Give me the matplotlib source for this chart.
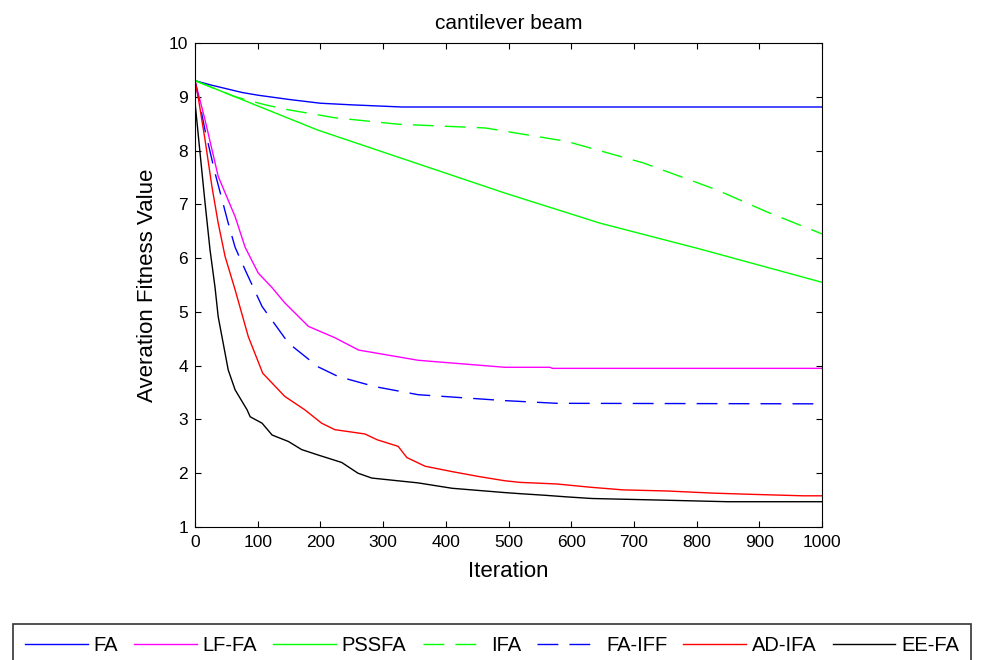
import matplotlib
matplotlib.use('Agg')
import matplotlib.pyplot as plt

plt.rcParams['font.family'] = ['Liberation Sans', 'DejaVu Sans']

# convergence curves: (iteration, average fitness) read at breakpoints
fa_it = [0, 25, 50, 75, 100, 150, 200, 250, 330, 1000]
fa_val = [9.3, 9.22, 9.15, 9.08, 9.03, 8.95, 8.88, 8.85, 8.81, 8.81]

lffa_it = [0, 16, 37, 64, 80, 101, 123, 143, 181, 223, 261, 356, 494, 566, 570, 1000]
lffa_val = [9.3, 8.57, 7.52, 6.77, 6.2, 5.72, 5.45, 5.17, 4.73, 4.52, 4.29, 4.10, 3.97, 3.97, 3.95, 3.95]

pssfa_it = [0, 100, 196, 303, 494, 646, 805, 1000]
pssfa_val = [9.3, 8.83, 8.38, 7.96, 7.21, 6.65, 6.17, 5.55]

ifa_it = [0, 64, 112, 148, 223, 324, 463, 593, 715, 832, 912, 1000]
ifa_val = [9.3, 9.0, 8.85, 8.76, 8.61, 8.49, 8.42, 8.17, 7.77, 7.27, 6.86, 6.45]

faiff_it = [0, 16, 32, 53, 64, 80, 107, 149, 196, 228, 287, 356, 494, 577, 1000]
faiff_val = [9.3, 8.38, 7.58, 6.65, 6.2, 5.78, 5.10, 4.42, 3.98, 3.80, 3.61, 3.46, 3.35, 3.30, 3.29]

adifa_it = [0, 5, 16, 27, 37, 48, 64, 85, 108, 143, 175, 202, 223, 271, 291, 324, 338,
            367, 410, 452, 494, 518, 577, 630, 683, 752, 826, 880, 970, 1000]
adifa_val = [9.3, 9.0, 8.2, 7.33, 6.65, 6.03, 5.41, 4.54, 3.86, 3.43, 3.18, 2.93, 2.81, 2.73, 2.62, 2.50, 2.29,
             2.13, 2.03, 1.94, 1.86, 1.83, 1.80, 1.74, 1.69, 1.67, 1.63, 1.61, 1.58, 1.58]

eefa_it = [0, 8, 16, 24, 32, 37, 53, 64, 83, 88, 107, 123, 149, 170, 196, 234, 260, 282,
           356, 410, 494, 518, 558, 593, 633, 744, 850, 1000]
eefa_val = [8.9, 7.96, 7.03, 6.15, 5.45, 4.91, 3.92, 3.55, 3.18, 3.05, 2.93, 2.71, 2.59, 2.44, 2.34, 2.20, 2.00, 1.91,
            1.82, 1.72, 1.64, 1.62, 1.59, 1.56, 1.53, 1.50, 1.47, 1.47]

fig = plt.figure(figsize=(9.81, 6.6), dpi=100)
ax = fig.add_axes([195/981, 1 - 527/660, 627/981, 484/660])

dash = (0, (15, 8))
ax.plot(fa_it, fa_val, color='#0000ff', lw=1.0, label='FA')
ax.plot(lffa_it, lffa_val, color='#ff00ff', lw=1.0, label='LF-FA')
ax.plot(pssfa_it, pssfa_val, color='#00ff00', lw=1.0, label='PSSFA')
ax.plot(ifa_it, ifa_val, color='#00ff00', lw=1.0, ls=dash, label='IFA')
ax.plot(faiff_it, faiff_val, color='#0000ff', lw=1.0, ls=dash, label='FA-IFF')
ax.plot(adifa_it, adifa_val, color='#ff0000', lw=1.0, label='AD-IFA')
ax.plot(eefa_it, eefa_val, color='#000000', lw=1.0, label='EE-FA')

ax.set_xlim(0, 1000)
ax.set_ylim(1, 10)
ax.set_xticks(range(0, 1001, 100))
ax.set_yticks(range(1, 11))
ax.tick_params(direction='in', top=True, right=True, length=4.5, width=0.8,
               labelsize=12.5)
ax.tick_params(axis='x', pad=6)
ax.tick_params(axis='y', pad=5)
for s in ax.spines.values():
    s.set_linewidth(0.8)

ax.set_xlabel('Iteration', fontsize=16, labelpad=8)
ax.set_ylabel('Averation Fitness Value', fontsize=16, labelpad=8)
ax.set_title('cantilever beam', fontsize=15, pad=10)

leg = fig.legend(loc='upper left', bbox_to_anchor=(13/981, 1 - 624/660, 958/981, 0),
                 mode='expand', ncol=7, fontsize=14.5, frameon=True, fancybox=False,
                 edgecolor='black', handlelength=3.1, handletextpad=0.3,
                 borderaxespad=0, borderpad=0.6)
leg.get_frame().set_linewidth(1.2)

fig.savefig('out.png', dpi=100)
